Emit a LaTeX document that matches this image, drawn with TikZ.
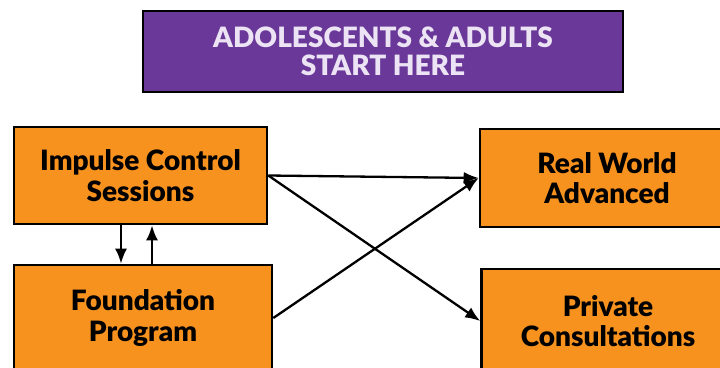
\documentclass[tikz,border=0pt]{standalone}
\usepackage{fontspec}
\setmainfont{Lato}
\newfontfamily\heavyfont{Lato Black}
\usetikzlibrary{arrows.meta}
\definecolor{boxorange}{HTML}{F7921F}
\definecolor{startpurple}{HTML}{6A3899}
\definecolor{startfont}{HTML}{ECE4F4}
\begin{document}
\begin{tikzpicture}[x=1pt, y=-1pt,
                    box/.style={rectangle, draw=black, line width=2.6pt, fill=boxorange,
                                align=center, font=\heavyfont\fontsize{28}{30.5}\selectfont, inner sep=0pt},
                    startbox/.style={rectangle, draw=black, line width=2.2pt, fill=startpurple,
                                text=startfont, align=center, font=\heavyfont\fontsize{28}{27.5}\selectfont,
                                minimum width=480pt, minimum height=81pt, inner sep=0pt},
                    link/.style={draw, line width=2.3pt, -{Latex[length=15pt,width=12pt]}}]

    \useasboundingbox (0,0) rectangle (720,367);
    \clip (0,0) rectangle (720,367);

    % Start
    \node[startbox] (start) at (383,51.5) {ADOLESCENTS \& ADULTS\\START HERE};

    % Programs
    \node[box, minimum width=253pt, minimum height=97pt] (impulse) at (140.5,175.5) {Impulse Control\\Sessions}; % Left top
    \node[box, minimum width=258pt, minimum height=106pt] (foundation) at (143,318) {Foundation\\Program}; % Left bottom
    \node[box, minimum width=254pt, minimum height=98pt] (realworld) at (607,178) {Real World\\Advanced}; % Right top
    \node[box, minimum width=253pt, minimum height=104pt] (private) at (608,321) {Private\\Consultations}; % Right bottom

    % Links
    \path[link] ([xshift=-19.5pt]impulse.south) -- ([xshift=-19.5pt]impulse.south |- foundation.north);
    \path[link] ([xshift=11.5pt]impulse.south |- foundation.north) -- ([xshift=11.5pt]impulse.south);
    \path[link] (impulse.east) -- (realworld.west);
    \path[link] (impulse.east) -- (private.west);
    \path[link] (foundation.east) -- (realworld.west);
\end{tikzpicture}
\end{document}
